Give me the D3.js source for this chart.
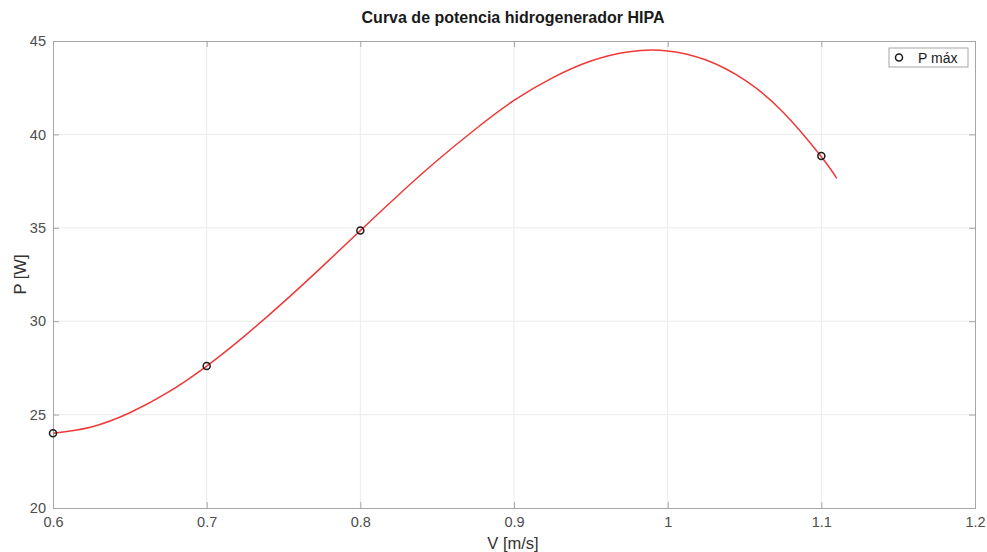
<!DOCTYPE html>
<html>
<head>
<meta charset="utf-8">
<script src="https://cdn.jsdelivr.net/npm/d3@7"></script>
<style>
  body { margin: 0; background: #fff; }
  svg { font-family: "Liberation Sans", Arial, sans-serif; }
</style>
</head>
<body>
<svg id="chart" width="987" height="552"></svg>
<script>
// curve
const curveV = [0.600, 0.625, 0.650, 0.675, 0.700, 0.725, 0.750, 0.775, 0.800, 0.825, 0.850,
                0.875, 0.900, 0.925, 0.950, 0.975, 1.000, 1.025, 1.050, 1.075, 1.100, 1.110];
const curveP = [24.0, 24.34, 25.1, 26.2, 27.6, 29.23, 31.02, 32.91, 34.85, 36.77, 38.6,
                40.29, 41.82, 43.03, 43.93, 44.43, 44.47, 43.98, 42.92, 41.2, 38.8, 37.65];

// marked points (P máx)
const markV = [0.6, 0.7, 0.8, 1.1];
const markP = [24.0, 27.6, 34.85, 38.85];

const xTicks = [0.6, 0.7, 0.8, 0.9, 1, 1.1, 1.2];
const yTicks = [20, 25, 30, 35, 40, 45];

const title = "Curva de potencia hidrogenerador HIPA";
const legendLabel = "P máx";

let svg = d3.select("#chart");
let plotLeft = 53, plotRight = 975, plotTop = 41, plotBottom = 508;

let x = d3.scaleLinear().domain([0.6, 1.2]).range([plotLeft, plotRight]);
let y = d3.scaleLinear().domain([20, 45]).range([plotBottom, plotTop]);

// grid
svg.append("g").selectAll("line").data(xTicks.slice(1, -1)).enter().append("line")
    .attr("x1", d => x(d)).attr("x2", d => x(d))
    .attr("y1", plotTop).attr("y2", plotBottom)
    .style("stroke", "#ebebeb");
svg.append("g").selectAll("line").data(yTicks.slice(1, -1)).enter().append("line")
    .attr("x1", plotLeft).attr("x2", plotRight)
    .attr("y1", d => y(d)).attr("y2", d => y(d))
    .style("stroke", "#ebebeb");

// axes (ticks inside, MATLAB style)
svg.append("g").attr("transform", "translate(0," + plotBottom + ")")
    .call(d3.axisBottom(x).tickValues(xTicks).tickSize(-6).tickPadding(9).tickFormat(d3.format("")));
svg.append("g").attr("transform", "translate(" + plotLeft + ",0)")
    .call(d3.axisLeft(y).tickValues(yTicks).tickSize(-6).tickPadding(7));
svg.append("g").attr("transform", "translate(0," + plotTop + ")")
    .call(d3.axisTop(x).tickValues(xTicks).tickSize(-6).tickFormat(""));
svg.append("g").attr("transform", "translate(" + plotRight + ",0)")
    .call(d3.axisRight(y).tickValues(yTicks).tickSize(-6).tickFormat(""));

svg.selectAll(".domain").style("stroke", "#a6a6a6");
svg.selectAll(".tick line").style("stroke", "#a6a6a6");
svg.selectAll(".tick text").style("fill", "#4d4d4d").style("font-size", "14.5px");

// curve
let pts = curveV.map((v, i) => [v, curveP[i]]);
let line = d3.line().x(d => x(d[0])).y(d => y(d[1])).curve(d3.curveNatural);
svg.append("path").datum(pts)
    .attr("d", line)
    .style("fill", "none")
    .style("stroke", "#f03838")
    .style("stroke-width", 1.5);

// markers
svg.append("g").selectAll("circle").data(markV).enter().append("circle")
    .attr("cx", d => x(d))
    .attr("cy", (d, i) => y(markP[i]))
    .attr("r", 3.5)
    .style("fill", "none")
    .style("stroke", "#1a1a1a")
    .style("stroke-width", 1.5);

// legend
let lg = svg.append("g");
lg.append("rect").attr("x", 889).attr("y", 48).attr("width", 79).attr("height", 19)
    .style("fill", "#fff").style("stroke", "#a6a6a6");
lg.append("circle").attr("cx", 899).attr("cy", 57.5).attr("r", 3.5)
    .style("fill", "none").style("stroke", "#1a1a1a").style("stroke-width", 1.5);
lg.append("text").attr("x", 918).attr("y", 62.5).text(legendLabel)
    .style("font-size", "14px").style("fill", "#1a1a1a");

// title and labels
svg.append("text").attr("x", 513).attr("y", 23).attr("text-anchor", "middle")
    .text(title).style("font-size", "16px").style("font-weight", "bold").style("fill", "#1a1a1a");
svg.append("text").attr("x", 513).attr("y", 549).attr("text-anchor", "middle")
    .text("V [m/s]").style("font-size", "16.5px").style("fill", "#333");
svg.append("text").attr("transform", "translate(26," + ((plotTop + plotBottom) / 2) + ") rotate(-90)")
    .attr("text-anchor", "middle")
    .text("P [W]").style("font-size", "16.5px").style("fill", "#333");
</script>
</body>
</html>
